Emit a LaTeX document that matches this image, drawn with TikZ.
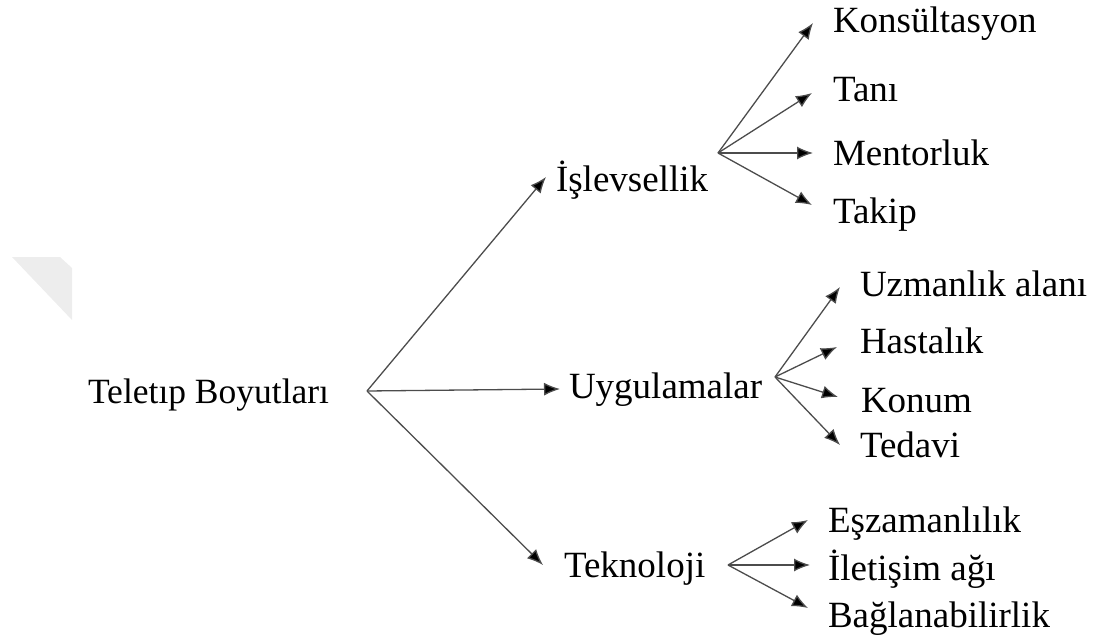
\documentclass[tikz,border=0pt]{standalone}
\usepackage{fontspec}
\setmainfont{Liberation Serif}
\usetikzlibrary{arrows.meta}

\begin{document}
\begin{tikzpicture}[x=1pt,y=-1pt,
  lbl/.style={anchor=base west,inner sep=0pt,outer sep=0pt,text=black,
    font=\fontsize{37}{44}\selectfont},
  rootlbl/.style={lbl,font=\fontsize{35.5}{42}\selectfont},
  arr/.style={draw=black!70,line width=1.3pt,
    -{Latex[length=16pt,width=13pt,fill=black]}}]
  \useasboundingbox (0,0) rectangle (1100,639);

  % faint corner mark on the left edge
  \fill[black!7] (12,257) -- (60,257) -- (72,268) -- (72,320) -- cycle;

  % root and branch points
  \node[rootlbl] (root) at (88,403) {Teletıp Boyutları};
  \coordinate (h0) at (367,391);
  \coordinate (h1) at (718,153);
  \coordinate (h2) at (775,377);
  \coordinate (h3) at (728,565);

  % first level
  \node[lbl] (isl) at (556,192) {İşlevsellik};
  \node[lbl] (uyg) at (569,398) {Uygulamalar};
  \node[lbl] (tek) at (564,577) {Teknoloji};

  % İşlevsellik leaves
  \node[lbl] (kon) at (833,33)  {Konsültasyon};
  \node[lbl] (tan) at (833,102) {Tanı};
  \node[lbl] (men) at (833,166) {Mentorluk};
  \node[lbl] (tak) at (833,223) {Takip};

  % Uygulamalar leaves
  \node[lbl] (uzm) at (860,296) {Uzmanlık alanı};
  \node[lbl] (has) at (860,353) {Hastalık};
  \node[lbl] (knm) at (861,412) {Konum};
  \node[lbl] (ted) at (860,457) {Tedavi};

  % Teknoloji leaves
  \node[lbl] (esz) at (828,532) {Eşzamanlılık};
  \node[lbl] (ile) at (828,580) {İletişim ağı};
  \node[lbl] (bag) at (828,627) {Bağlanabilirlik};

  % connectors: root to first level
  \draw[arr] (h0) -- ([shift={(-10,-15)}]isl.base west);
  \draw[arr] (h0) -- ([shift={(-9,-9)}]uyg.base west);
  \draw[arr] (h0) -- ([shift={(-21,-12)}]tek.base west);

  % İşlevsellik fan
  \draw[arr] (h1) -- ([shift={(-20,-10)}]kon.base west);
  \draw[arr] (h1) -- ([shift={(-21,-9)}]tan.base west);
  \draw[arr] (h1) -- ([shift={(-20,-13)}]men.base west);
  \draw[arr] (h1) -- ([shift={(-21,-18)}]tak.base west);

  % Uygulamalar fan
  \draw[arr] (h2) -- ([shift={(-20,-9)}]uzm.base west);
  \draw[arr] (h2) -- ([shift={(-23,-6)}]has.base west);
  \draw[arr] (h2) -- ([shift={(-23,-15)}]knm.base west);
  \draw[arr] (h2) -- ([shift={(-20,-12)}]ted.base west);

  % Teknoloji fan
  \draw[arr] (h3) -- ([shift={(-20,-12)}]esz.base west);
  \draw[arr] (h3) -- ([shift={(-18,-15)}]ile.base west);
  \draw[arr] (h3) -- ([shift={(-20,-19)}]bag.base west);
\end{tikzpicture}
\end{document}
